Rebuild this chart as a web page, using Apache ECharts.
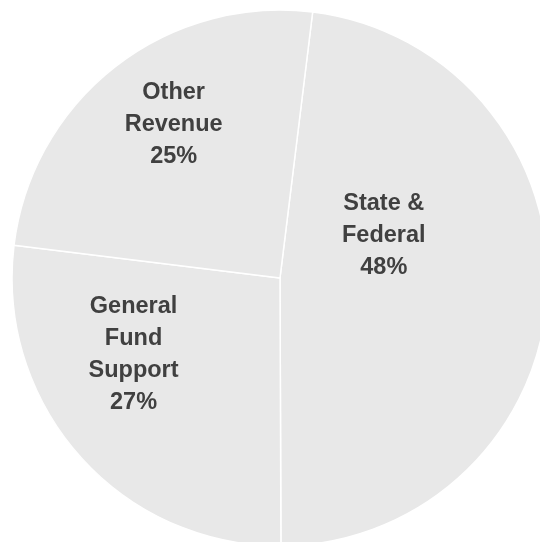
<!DOCTYPE html>
<html>
<head>
<meta charset="utf-8">
<style>
  html, body { margin: 0; padding: 0; background: #ffffff; }
  #chart { width: 540px; height: 542px; }
</style>
<script src="https://cdn.jsdelivr.net/npm/echarts@6/dist/echarts.min.js"></script>
</head>
<body>
<div id="chart"></div>
<script>
// Revenue sources, share of total (percent)
const categories = ['State &\nFederal', 'General\nFund\nSupport', 'Other\nRevenue'];
const shares = [48, 27, 25];

// Label nudges (px) from the default inside position of each slice
const labelOffsets = [[-33, -51], [-44, -14], [-22, -46]];

const chart = echarts.init(document.getElementById('chart'), null, { renderer: 'canvas' });

const pieData = categories.map((name, i) => ({
  name: name,
  value: shares[i],
  label: { offset: labelOffsets[i] }
}));

chart.setOption({
  animation: false,
  backgroundColor: '#ffffff',
  series: [{
    type: 'pie',
    center: [280, 278],
    radius: 268,
    startAngle: 83,
    clockwise: true,
    silent: true,
    itemStyle: {
      color: '#e8e8e8',
      borderColor: '#ffffff',
      borderWidth: 1.5
    },
    label: {
      show: true,
      position: 'inside',
      formatter: p => p.name + '\n' + p.value + '%',
      color: '#404040',
      fontFamily: 'Liberation Sans, Arial, sans-serif',
      fontWeight: 'bold',
      fontSize: 23.5,
      lineHeight: 32,
      align: 'center'
    },
    labelLine: { show: false },
    data: pieData
  }]
});
</script>
</body>
</html>
